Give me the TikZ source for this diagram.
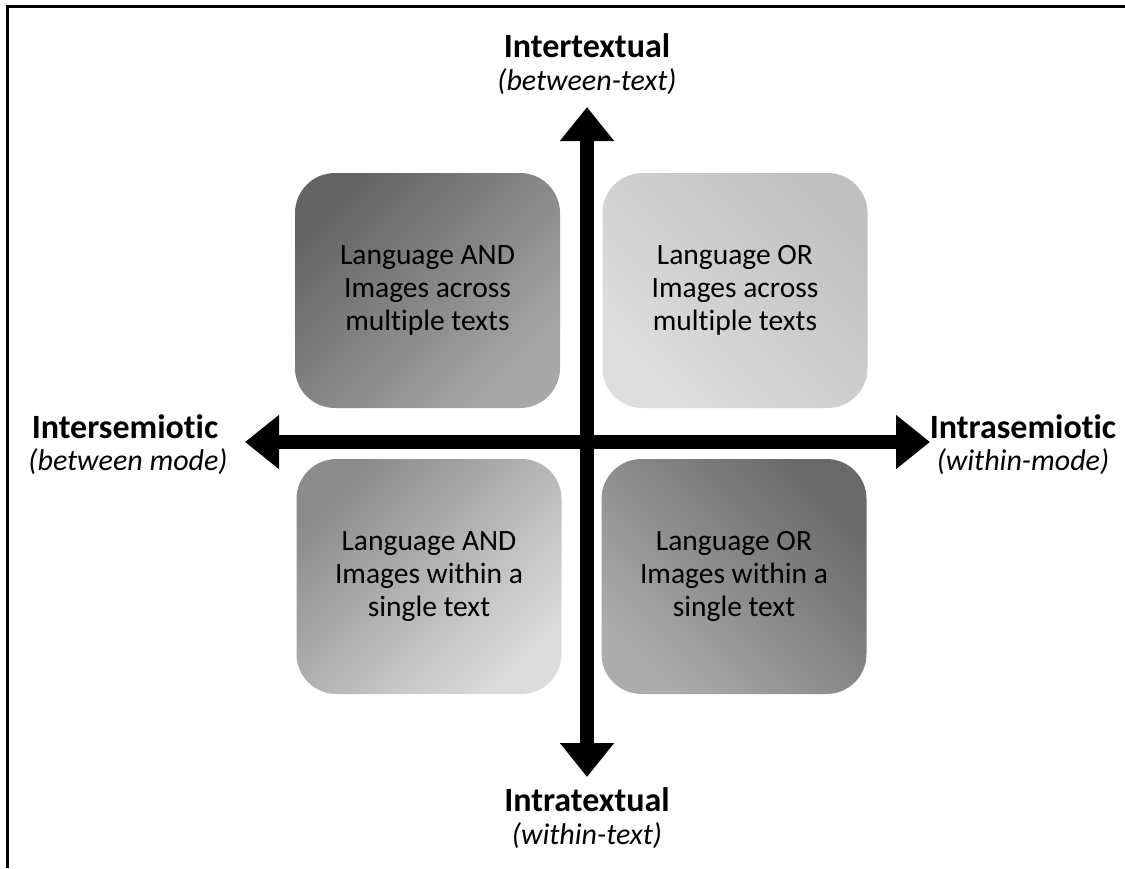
\documentclass[tikz,border=0pt]{standalone}
\usepackage{fontspec}
\setmainfont[RawFeature={-liga;-clig;-calt;-dlig}]{Carlito}
\usetikzlibrary{arrows.meta}
\definecolor{gA}{RGB}{100,100,100}
\definecolor{gB}{RGB}{168,168,168}
\definecolor{gC}{RGB}{192,192,192}
\definecolor{gD}{RGB}{222,222,222}
\definecolor{gE}{RGB}{140,140,140}
\definecolor{gF}{RGB}{220,220,220}
\definecolor{gG}{RGB}{105,105,105}
\definecolor{gH}{RGB}{172,172,172}
\tikzset{
  quad/.style={rounded corners=40pt, minimum width=265pt, minimum height=235pt,
    align=center, font=\fontsize{29.5}{33}\selectfont, text=black, inner sep=0pt},
  axisarrow/.style={line width=14pt, black,
    {Triangle[width=52pt,length=34pt]}-{Triangle[width=52pt,length=34pt]}},
  boldlab/.style={font=\fontsize{34}{40}\selectfont\bfseries, inner sep=0pt},
  itlab/.style={font=\fontsize{30}{36}\selectfont\itshape, inner sep=0pt},
  frame/.style={line width=3pt, black}
}
\begin{document}
\begin{tikzpicture}[x=1pt,y=-1pt]
\useasboundingbox (0,0) rectangle (1125,868);
\fill[white] (0,0) rectangle (1125,868);
\coordinate (fa) at (7,868);
\coordinate (fb) at (7,6);
\coordinate (fc) at (1125,6);
\draw[frame] (fa) -- (fb) -- (fc);

\node[quad, shading=axis, top color=gA, bottom color=gB, shading angle=45] (tl) at (427.5,290.5)
  {Language AND\\Images across\\multiple texts};
\node[quad, shading=axis, top color=gC, bottom color=gD, shading angle=-45] (tr) at (735,290.5)
  {Language OR\\Images across\\multiple texts};
\node[quad, shading=axis, top color=gE, bottom color=gF, shading angle=45] (bl) at (429,576.5)
  {Language AND\\Images within a\\single text};
\node[quad, shading=axis, top color=gG, bottom color=gH, shading angle=-45] (br) at (734,576.5)
  {Language OR\\Images within a\\single text};

\coordinate (up) at (587,107);
\coordinate (down) at (587,777);
\coordinate (left) at (245,442);
\coordinate (right) at (930,442);
\draw[axisarrow] (down) -- (up);
\draw[axisarrow] (left) -- (right);

\node[boldlab] (intert) at (587,46) {Intertextual};
\node[itlab] (intertb) at (587,82) {(between-text)};
\node[boldlab] (intrat) at (587,800) {Intratextual};
\node[itlab] (intratb) at (587,836) {(within-text)};
\node[boldlab] (inters) at (125,427) {Intersemiotic};
\node[itlab] (intersb) at (128,462) {(between mode)};
\node[boldlab] (intras) at (1023,427) {Intrasemiotic};
\node[itlab] (intrasb) at (1023,462) {(within-mode)};
\end{tikzpicture}
\end{document}
